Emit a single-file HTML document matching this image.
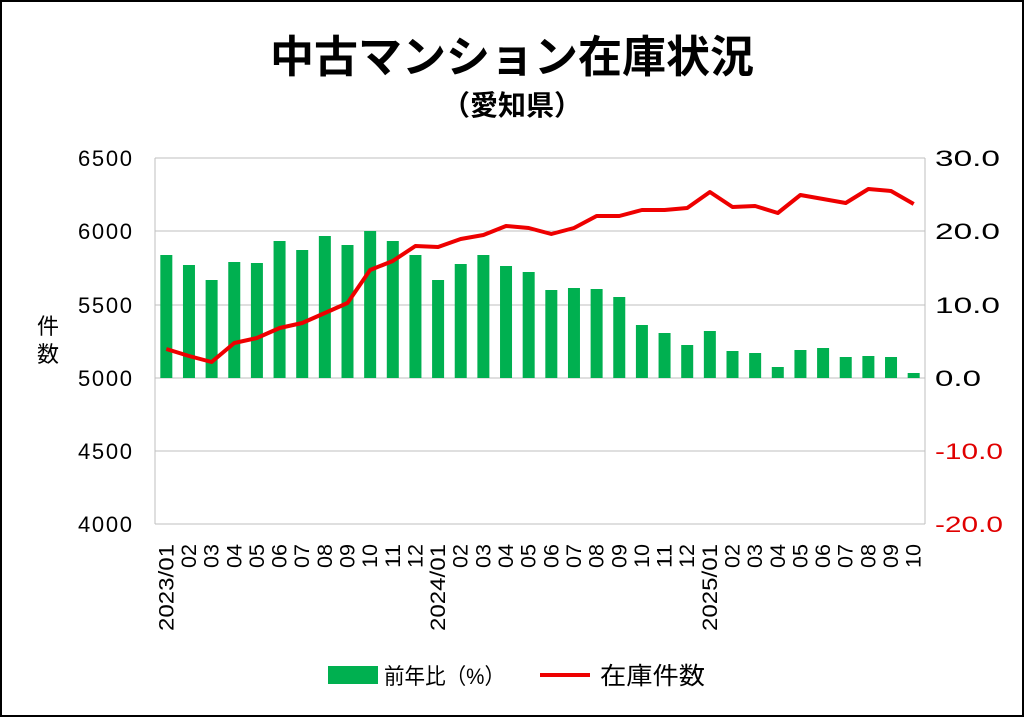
<!DOCTYPE html>
<html><head><meta charset="utf-8"><style>
html,body{margin:0;padding:0;background:#fff;}
svg{display:block;font-family:"Liberation Sans","Noto Sans CJK JP",sans-serif;}
</style></head><body>
<svg width="1024" height="717" viewBox="0 0 1024 717" xmlns="http://www.w3.org/2000/svg">
<rect x="1" y="1" width="1022" height="715" fill="#fff" stroke="#000" stroke-width="2"/>
<text x="512" y="72" font-size="44" font-weight="bold" text-anchor="middle">中古マンション在庫状況</text>
<text x="512" y="115" font-size="28" font-weight="bold" text-anchor="middle">（愛知県）</text>
<g stroke="#bfbfbf" stroke-width="1">
<line x1="155" y1="158" x2="925" y2="158"/>
<line x1="155" y1="231" x2="925" y2="231"/>
<line x1="155" y1="305" x2="925" y2="305"/>
<line x1="155" y1="378" x2="925" y2="378"/>
<line x1="155" y1="451" x2="925" y2="451"/>
<line x1="155" y1="524" x2="925" y2="524"/>
<line x1="155" y1="158" x2="155" y2="524"/>
<line x1="925" y1="158" x2="925" y2="524"/>
</g>
<g font-size="22" text-anchor="end">
<text x="132" y="166" textLength="54">6500</text><text x="132" y="239" textLength="54">6000</text><text x="132" y="313" textLength="54">5500</text>
<text x="132" y="386" textLength="54">5000</text><text x="132" y="459" textLength="54">4500</text><text x="132" y="532" textLength="54">4000</text>
</g>
<g font-size="22">
<text x="935" y="166" textLength="65" lengthAdjust="spacingAndGlyphs">30.0</text><text x="935" y="239" textLength="65" lengthAdjust="spacingAndGlyphs">20.0</text><text x="935" y="313" textLength="65" lengthAdjust="spacingAndGlyphs">10.0</text>
<text x="935" y="386" textLength="46" lengthAdjust="spacingAndGlyphs">0.0</text><text x="935" y="459" fill="#e00000" textLength="68" lengthAdjust="spacingAndGlyphs">-10.0</text><text x="935" y="532" fill="#e00000" textLength="68" lengthAdjust="spacingAndGlyphs">-20.0</text>
</g>
<text x="48" y="334" font-size="22" text-anchor="middle">件</text>
<text x="48" y="362" font-size="22" text-anchor="middle">数</text>
<g id="bars" fill="#00b050"></g>
<polyline id="line" fill="none" stroke="#ee0000" stroke-width="4" stroke-linejoin="round"/>
<g id="xl" font-size="21"></g>
<rect x="328" y="666" width="50" height="18" fill="#00b050"/>
<text x="384" y="684" font-size="22" textLength="121" lengthAdjust="spacingAndGlyphs">前年比（%）</text>
<line x1="540" y1="675" x2="590" y2="675" stroke="#ee0000" stroke-width="4"/>
<text x="600" y="684" font-size="24" textLength="105" lengthAdjust="spacingAndGlyphs">在庫件数</text>
<script>
var tops=[255,265,280,262,263,241,250,236,245,231,241,255,280,264,255,266,272,290,288,289,297,325,333,345,331,351,353,367,350,348,357,356,357,373];
var ly=[349,356,362,343,338,328,323,313,303,270,261,246,247,239,235,226,228,234,228,216,216,210,210,208,192,207,206,213,195,199,203,189,191,204];
var labs=["2023/01","02","03","04","05","06","07","08","09","10","11","12","2024/01","02","03","04","05","06","07","08","09","10","11","12","2025/01","02","03","04","05","06","07","08","09","10"];
var ns="http://www.w3.org/2000/svg",b=document.getElementById("bars"),xl=document.getElementById("xl"),pts=[];
for(var i=0;i<34;i++){var cx=155+22.647*(i+0.5);
var r=document.createElementNS(ns,"rect");r.setAttribute("x",cx-6);r.setAttribute("y",tops[i]);r.setAttribute("width",12);r.setAttribute("height",378-tops[i]);b.appendChild(r);
pts.push(cx.toFixed(1)+","+ly[i]);
var t=document.createElementNS(ns,"text");t.setAttribute("transform","translate("+(cx+7)+",544) rotate(-90)");t.setAttribute("text-anchor","end");t.setAttribute("textLength",labs[i].length>2?"87":"24");t.setAttribute("lengthAdjust","spacingAndGlyphs");t.textContent=labs[i];xl.appendChild(t);}
document.getElementById("line").setAttribute("points",pts.join(" "));
</script>
</svg>
</body></html>
